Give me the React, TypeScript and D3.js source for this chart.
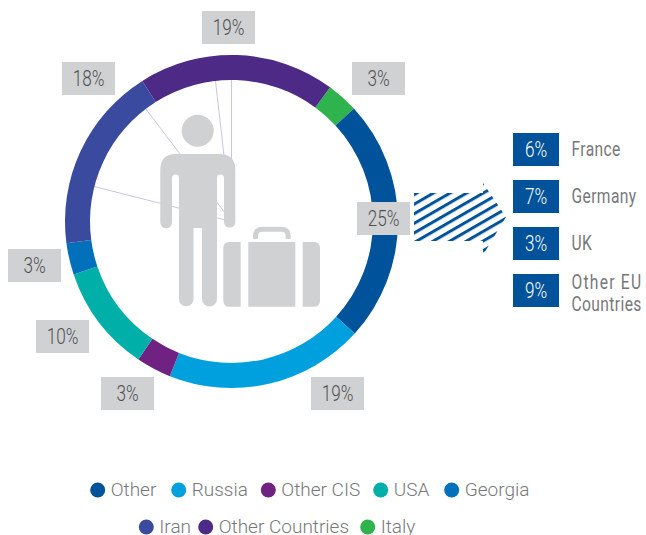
import React from "react";
import * as d3 from "d3";

const categories = ["Italy", "Other", "Russia", "Other CIS", "USA", "Georgia", "Iran", "Other Countries"];
const labelValues = [3, 25, 19, 3, 10, 3, 18, 19];
const arcShares = [3.06, 23.6, 19.3, 3.4, 10.4, 3.06, 18.1, 19.08];
const colors = ["#2fb34d", "#00529b", "#00a0df", "#702283", "#00b0a8", "#0070ba", "#394a9f", "#4c2a85"];
const labelBoxes: [number, number][] = [[352, 62], [357, 202], [311, 377], [101, 377], [36, 320], [8, 249], [62, 62], [202, 11]];
const dividerAngles = [0, -6.5, -37.3, -75.7];
const euNames = [["France"], ["Germany"], ["UK"], ["Other EU", "Countries"]];
const euShares = [6, 7, 3, 9];
const legendOrder = ["Other", "Russia", "Other CIS", "USA", "Georgia", "Iran", "Other Countries", "Italy"];
const legendDots: [number, number][] = [[97.7, 490], [178.7, 490], [268.3, 490], [380.7, 490], [451.7, 490], [146.3, 527], [205.7, 527], [367.7, 527]];

const W = 646, H = 535, CX = 231.5, CY = 221.5, R = 166.5, r = 141.5;
const rad = (d: number) => (d * Math.PI) / 180;
const FONT = "Roboto, sans-serif";
const GREY = "#d0d1d3";
const TXT = "#4f5052";

function Cond({ x, y, sx = 0.78, anchor = "start", size = 22, fill = TXT, spacing = 0, weight = 300, children }: any) {
  return (
    <text
      transform={`translate(${x},${y}) scale(${sx},1)`}
      textAnchor={anchor}
      fontFamily={FONT}
      fontWeight={weight}
      fontSize={size}
      letterSpacing={spacing}
      fill={fill}
    >
      {children}
    </text>
  );
}

export default function App() {
  const pie = d3.pie<number>().sort(null).value((d) => d).startAngle(rad(36.3)).endAngle(rad(396.3));
  const arc = d3.arc<d3.PieArcDatum<number>>().innerRadius(r).outerRadius(R);
  const arcs = pie(arcShares);
  const euY = d3.scalePoint<number>().domain(d3.range(euShares.length)).range([149.5, 290.5]);
  return (
    <svg width={W} height={H} viewBox={`0 0 ${W} ${H}`} style={{ position: "absolute", left: 0, top: 0 }}>
      <defs>
        <pattern id="hatch" width={8.3} height={8.3} patternUnits="userSpaceOnUse" patternTransform="translate(414 193) rotate(-30)">
          <rect width={8.3} height={3} fill="#00529b" />
        </pattern>
      </defs>
      <rect width={W} height={H} fill="#fff" />
      {dividerAngles.map((a) => (
        <line key={a} x1={CX} y1={CY} x2={CX + r * Math.sin(rad(a))} y2={CY - r * Math.cos(rad(a))} stroke="#c9c7e2" strokeWidth={1} />
      ))}
      <g transform={`translate(${CX},${CY})`}>
        {arcs.map((d, i) => (
          <path key={categories[i]} d={arc(d) ?? ""} fill={colors[i]} />
        ))}
      </g>
      <g fill={GREY}>
        <circle cx={197.7} cy={130.7} r={16} />
        <path d="M176,154 H219.5 Q235.3,154 235.3,170 V222.5 A5.7,5.7 0 0 1 224,222.5 V178 A3.5,3.5 0 0 0 217,178 V299 A7.5,7.5 0 0 1 202,299 V228 H193.5 V299 A7.2,7.2 0 0 1 179,299 V178 A3.5,3.5 0 0 0 172,178 V222.5 A5.8,5.8 0 0 1 160.3,222.5 V170 Q160.3,154 176,154 Z" />
        <path d="M240.7,242 V306.7 H229.3 Q223.3,306.7 223.3,300.7 V248 Q223.3,242 229.3,242 Z" />
        <rect x={248.3} y={242} width={47} height={64.7} />
        <path d="M302.7,242 V306.7 H314 Q320,306.7 320,300.7 V248 Q320,242 314,242 Z" />
        <path d="M255.5,239 V236 Q255.5,229.2 262.5,229.2 H281 Q288.2,229.2 288.2,236 V239" fill="none" stroke={GREY} strokeWidth={5} />
      </g>
      {labelValues.map((s, i) => (
        <g key={categories[i]}>
          <rect x={labelBoxes[i][0]} y={labelBoxes[i][1]} width={53} height={33} fill={GREY} />
          <Cond x={labelBoxes[i][0] + 26.5} y={labelBoxes[i][1] + 24} anchor="middle">{s}%</Cond>
        </g>
      ))}
      <path d="M414,193 H483 V183 L506,217 L483,255 V241 H414 Z" fill="url(#hatch)" />
      {euShares.map((s, i) => {
        const cy = euY(i) as number;
        return (
          <g key={euNames[i][0]}>
            <rect x={513} y={cy - 16.5} width={46} height={33} fill="#00529b" />
            <Cond x={536} y={cy + 7.5} anchor="middle" fill="#fff">{s}%</Cond>
            {euNames[i].length === 1 ? (
              <Cond x={571.5} y={cy + 6.5} size={20} sx={0.78} spacing={0.5} weight={400} fill="#77787b">{euNames[i][0]}</Cond>
            ) : (
              <>
                <Cond x={571.5} y={cy - 2} size={20} sx={0.78} spacing={1.6} weight={400} fill="#77787b">{euNames[i][0]}</Cond>
                <Cond x={571.5} y={cy + 20} size={20} sx={0.78} spacing={0.5} weight={400} fill="#77787b">{euNames[i][1]}</Cond>
              </>
            )}
          </g>
        );
      })}
      {legendOrder.map((name, i) => (
        <g key={name}>
          <circle cx={legendDots[i][0]} cy={legendDots[i][1]} r={7.5} fill={colors[categories.indexOf(name)]} />
          <text x={legendDots[i][0] + 13} y={legendDots[i][1] + 6} fontFamily={FONT} fontWeight={300} fontSize={19} fill="#77787b">{name}</text>
        </g>
      ))}
    </svg>
  );
}
